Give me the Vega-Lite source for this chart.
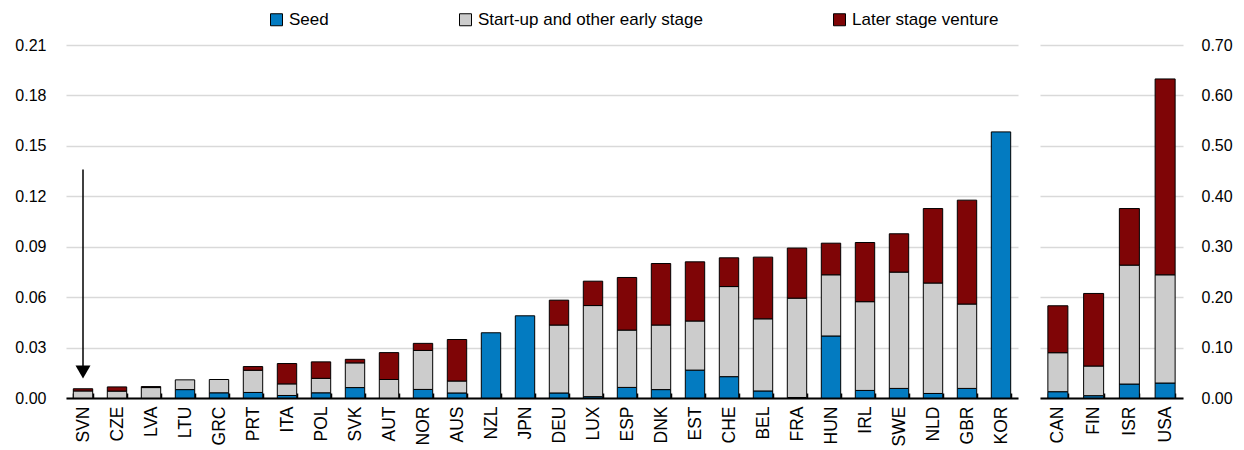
{
  "$schema": "https://vega.github.io/schema/vega-lite/v6.json",
  "padding": {"left": 14, "top": 11, "right": 8, "bottom": 0},
  "config": {
    "font": "Liberation Sans",
    "view": {"stroke": null},
    "axis": {"labelFont": "Liberation Sans", "labelFontSize": 16, "labelColor": "#000000"},
    "legend": {"labelFont": "Liberation Sans", "labelFontSize": 17, "labelColor": "#000000", "labelLimit": 500},
    "concat": {"spacing": 13}
  },
  "datasets": {
    "left": [
      {"country": "SVN", "stage": "Start-up and other early stage", "value": 0.0042, "ord": 2},
      {"country": "SVN", "stage": "Later stage venture", "value": 0.0013, "ord": 3},
      {"country": "CZE", "stage": "Start-up and other early stage", "value": 0.0041, "ord": 2},
      {"country": "CZE", "stage": "Later stage venture", "value": 0.0025, "ord": 3},
      {"country": "LVA", "stage": "Start-up and other early stage", "value": 0.0062, "ord": 2},
      {"country": "LVA", "stage": "Later stage venture", "value": 0.0006, "ord": 3},
      {"country": "LTU", "stage": "Seed", "value": 0.005, "ord": 1},
      {"country": "LTU", "stage": "Start-up and other early stage", "value": 0.0058, "ord": 2},
      {"country": "GRC", "stage": "Seed", "value": 0.0031, "ord": 1},
      {"country": "GRC", "stage": "Start-up and other early stage", "value": 0.0079, "ord": 2},
      {"country": "PRT", "stage": "Seed", "value": 0.0033, "ord": 1},
      {"country": "PRT", "stage": "Start-up and other early stage", "value": 0.0132, "ord": 2},
      {"country": "PRT", "stage": "Later stage venture", "value": 0.0022, "ord": 3},
      {"country": "ITA", "stage": "Seed", "value": 0.0015, "ord": 1},
      {"country": "ITA", "stage": "Start-up and other early stage", "value": 0.0069, "ord": 2},
      {"country": "ITA", "stage": "Later stage venture", "value": 0.0121, "ord": 3},
      {"country": "POL", "stage": "Seed", "value": 0.0031, "ord": 1},
      {"country": "POL", "stage": "Start-up and other early stage", "value": 0.0086, "ord": 2},
      {"country": "POL", "stage": "Later stage venture", "value": 0.0098, "ord": 3},
      {"country": "SVK", "stage": "Seed", "value": 0.0062, "ord": 1},
      {"country": "SVK", "stage": "Start-up and other early stage", "value": 0.0147, "ord": 2},
      {"country": "SVK", "stage": "Later stage venture", "value": 0.0021, "ord": 3},
      {"country": "AUT", "stage": "Start-up and other early stage", "value": 0.011, "ord": 2},
      {"country": "AUT", "stage": "Later stage venture", "value": 0.016, "ord": 3},
      {"country": "NOR", "stage": "Seed", "value": 0.0051, "ord": 1},
      {"country": "NOR", "stage": "Start-up and other early stage", "value": 0.0232, "ord": 2},
      {"country": "NOR", "stage": "Later stage venture", "value": 0.0042, "ord": 3},
      {"country": "AUS", "stage": "Seed", "value": 0.003, "ord": 1},
      {"country": "AUS", "stage": "Start-up and other early stage", "value": 0.0071, "ord": 2},
      {"country": "AUS", "stage": "Later stage venture", "value": 0.0247, "ord": 3},
      {"country": "NZL", "stage": "Seed", "value": 0.0388, "ord": 1},
      {"country": "JPN", "stage": "Seed", "value": 0.0489, "ord": 1},
      {"country": "DEU", "stage": "Seed", "value": 0.003, "ord": 1},
      {"country": "DEU", "stage": "Start-up and other early stage", "value": 0.0404, "ord": 2},
      {"country": "DEU", "stage": "Later stage venture", "value": 0.0148, "ord": 3},
      {"country": "LUX", "stage": "Seed", "value": 0.0008, "ord": 1},
      {"country": "LUX", "stage": "Start-up and other early stage", "value": 0.0542, "ord": 2},
      {"country": "LUX", "stage": "Later stage venture", "value": 0.0145, "ord": 3},
      {"country": "ESP", "stage": "Seed", "value": 0.0063, "ord": 1},
      {"country": "ESP", "stage": "Start-up and other early stage", "value": 0.0341, "ord": 2},
      {"country": "ESP", "stage": "Later stage venture", "value": 0.0313, "ord": 3},
      {"country": "DNK", "stage": "Seed", "value": 0.005, "ord": 1},
      {"country": "DNK", "stage": "Start-up and other early stage", "value": 0.0384, "ord": 2},
      {"country": "DNK", "stage": "Later stage venture", "value": 0.0366, "ord": 3},
      {"country": "EST", "stage": "Seed", "value": 0.0166, "ord": 1},
      {"country": "EST", "stage": "Start-up and other early stage", "value": 0.0292, "ord": 2},
      {"country": "EST", "stage": "Later stage venture", "value": 0.0352, "ord": 3},
      {"country": "CHE", "stage": "Seed", "value": 0.0127, "ord": 1},
      {"country": "CHE", "stage": "Start-up and other early stage", "value": 0.0536, "ord": 2},
      {"country": "CHE", "stage": "Later stage venture", "value": 0.0171, "ord": 3},
      {"country": "BEL", "stage": "Seed", "value": 0.0042, "ord": 1},
      {"country": "BEL", "stage": "Start-up and other early stage", "value": 0.0429, "ord": 2},
      {"country": "BEL", "stage": "Later stage venture", "value": 0.0367, "ord": 3},
      {"country": "FRA", "stage": "Seed", "value": 0.0003, "ord": 1},
      {"country": "FRA", "stage": "Start-up and other early stage", "value": 0.0591, "ord": 2},
      {"country": "FRA", "stage": "Later stage venture", "value": 0.0298, "ord": 3},
      {"country": "HUN", "stage": "Seed", "value": 0.0369, "ord": 1},
      {"country": "HUN", "stage": "Start-up and other early stage", "value": 0.0364, "ord": 2},
      {"country": "HUN", "stage": "Later stage venture", "value": 0.0188, "ord": 3},
      {"country": "IRL", "stage": "Seed", "value": 0.0045, "ord": 1},
      {"country": "IRL", "stage": "Start-up and other early stage", "value": 0.0528, "ord": 2},
      {"country": "IRL", "stage": "Later stage venture", "value": 0.0352, "ord": 3},
      {"country": "SWE", "stage": "Seed", "value": 0.0057, "ord": 1},
      {"country": "SWE", "stage": "Start-up and other early stage", "value": 0.0692, "ord": 2},
      {"country": "SWE", "stage": "Later stage venture", "value": 0.0228, "ord": 3},
      {"country": "NLD", "stage": "Seed", "value": 0.0027, "ord": 1},
      {"country": "NLD", "stage": "Start-up and other early stage", "value": 0.0657, "ord": 2},
      {"country": "NLD", "stage": "Later stage venture", "value": 0.0443, "ord": 3},
      {"country": "GBR", "stage": "Seed", "value": 0.0057, "ord": 1},
      {"country": "GBR", "stage": "Start-up and other early stage", "value": 0.0502, "ord": 2},
      {"country": "GBR", "stage": "Later stage venture", "value": 0.0618, "ord": 3},
      {"country": "KOR", "stage": "Seed", "value": 0.1583, "ord": 1}
    ],
    "right": [
      {"country": "CAN", "stage": "Seed", "value": 0.0125, "ord": 1},
      {"country": "CAN", "stage": "Start-up and other early stage", "value": 0.0773, "ord": 2},
      {"country": "CAN", "stage": "Later stage venture", "value": 0.0931, "ord": 3},
      {"country": "FIN", "stage": "Seed", "value": 0.0046, "ord": 1},
      {"country": "FIN", "stage": "Start-up and other early stage", "value": 0.0588, "ord": 2},
      {"country": "FIN", "stage": "Later stage venture", "value": 0.1439, "ord": 3},
      {"country": "ISR", "stage": "Seed", "value": 0.0277, "ord": 1},
      {"country": "ISR", "stage": "Start-up and other early stage", "value": 0.2358, "ord": 2},
      {"country": "ISR", "stage": "Later stage venture", "value": 0.1122, "ord": 3},
      {"country": "USA", "stage": "Seed", "value": 0.0297, "ord": 1},
      {"country": "USA", "stage": "Start-up and other early stage", "value": 0.2146, "ord": 2},
      {"country": "USA", "stage": "Later stage venture", "value": 0.3884, "ord": 3}
    ],
    "arrow": [
      {"country": "SVN", "top": 0.136, "bottom": 0.019, "head": 0.0155}
    ]
  },
  "hconcat": [
    {
      "width": 952,
      "height": 353,
      "layer": [
        {
          "data": {"name": "left"},
          "mark": {"type": "bar", "stroke": "#000000", "strokeWidth": 1},
          "encoding": {
            "x": {
              "field": "country", "type": "nominal", "title": null,
              "scale": {"domain": ["SVN","CZE","LVA","LTU","GRC","PRT","ITA","POL","SVK","AUT","NOR","AUS","NZL","JPN","DEU","LUX","ESP","DNK","EST","CHE","BEL","FRA","HUN","IRL","SWE","NLD","GBR","KOR"], "paddingInner": 0.43, "paddingOuter": 0.215},
              "axis": {"labelAngle": -90, "labelFontSize": 17.5, "domainColor": "#000000", "domainWidth": 2, "tickColor": "#000000", "tickWidth": 1.5, "tickSize": -5, "tickBand": "extent", "labelPadding": 13}
            },
            "y": {
              "field": "value", "type": "quantitative", "stack": "zero", "title": null,
              "scale": {"domain": [0, 0.21], "nice": false},
              "axis": {"values": [0, 0.03, 0.06, 0.09, 0.12, 0.15, 0.18, 0.21], "format": ".2f", "domain": false, "ticks": false, "grid": true, "gridColor": "#d9d9d9", "gridWidth": 1.5, "labelPadding": 20}
            },
            "color": {
              "field": "stage", "type": "nominal",
              "scale": {"domain": ["Seed", "Start-up and other early stage", "Later stage venture"], "range": ["#037BC1", "#CCCCCC", "#7F0506"]},
              "legend": {"title": null, "orient": "none", "direction": "horizontal", "legendX": 202, "legendY": -34, "columnPadding": 128, "symbolType": "square", "symbolSize": 144, "symbolStrokeColor": "#000000", "symbolStrokeWidth": 1, "labelOffset": 4}
            },
            "order": {"field": "ord", "type": "quantitative"}
          }
        },
        {
          "data": {"name": "arrow"},
          "mark": {"type": "rule", "color": "#000000", "strokeWidth": 1.5},
          "encoding": {
            "x": {"field": "country", "type": "nominal"},
            "y": {"field": "top", "type": "quantitative"},
            "y2": {"field": "bottom"}
          }
        },
        {
          "data": {"name": "arrow"},
          "mark": {"type": "point", "shape": "triangle-down", "filled": true, "color": "#000000", "size": 225, "opacity": 1},
          "encoding": {
            "x": {"field": "country", "type": "nominal"},
            "y": {"field": "head", "type": "quantitative"}
          }
        }
      ]
    },
    {
      "width": 143,
      "height": 353,
      "data": {"name": "right"},
      "mark": {"type": "bar", "stroke": "#000000", "strokeWidth": 1},
      "encoding": {
        "x": {
          "field": "country", "type": "nominal", "title": null,
          "scale": {"domain": ["CAN", "FIN", "ISR", "USA"], "paddingInner": 0.44, "paddingOuter": 0.22},
          "axis": {"labelAngle": -90, "labelFontSize": 17.5, "domainColor": "#000000", "domainWidth": 2, "tickColor": "#000000", "tickWidth": 1.5, "tickSize": -5, "tickBand": "extent", "labelPadding": 13}
        },
        "y": {
          "field": "value", "type": "quantitative", "stack": "zero", "title": null,
          "scale": {"domain": [0, 0.7], "nice": false},
          "axis": {"orient": "right", "values": [0, 0.1, 0.2, 0.3, 0.4, 0.5, 0.6, 0.7], "format": ".2f", "domain": false, "ticks": false, "grid": true, "gridColor": "#d9d9d9", "gridWidth": 1.5, "labelPadding": 18}
        },
        "color": {"field": "stage", "type": "nominal"},
        "order": {"field": "ord", "type": "quantitative"}
      }
    }
  ]
}
